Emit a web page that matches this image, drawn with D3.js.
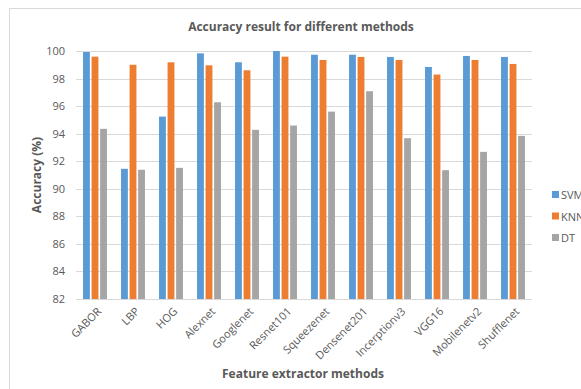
<!DOCTYPE html>
<html lang="en">
  <head>
    <meta charset="utf-8">
    <title>Accuracy result for different methods</title>
    <script src="https://d3js.org/d3.v7.min.js"></script>
    <style type="text/css">
      body {
        margin: 0;
        background: white;
      }
      .title {
        font-size: 12px;
        font-weight: bold;
        font-family: "Open Sans", sans-serif;
        fill: #595959;
      }
      .label {
        font-size: 12px;
        font-weight: bold;
        font-family: "Open Sans", sans-serif;
        fill: #595959;
      }
      .tick text, .legend text {
        font-size: 11px;
        font-family: "Open Sans", sans-serif;
        fill: #595959;
      }
    </style>
  </head>
  <body>
    <div id="vis"></div>
    <script type="text/javascript">

    const categories = ["GABOR", "LBP", "HOG", "Alexnet", "Googlenet", "Resnet101",
      "Squeezenet", "Densenet201", "Incerptionv3", "VGG16", "Mobilenetv2", "Shufflenet"];
    const seriesNames = ["SVM", "KNN", "DT"];
    const svmValues = [99.93, 91.45, 95.24, 99.83, 99.18, 100.0, 99.73, 99.73, 99.57, 98.84, 99.64, 99.57];
    const knnValues = [99.59, 99.0, 99.18, 98.96, 98.6, 99.59, 99.35, 99.57, 99.35, 98.29, 99.35, 99.06];
    const dtValues = [94.35, 91.38, 91.52, 96.28, 94.28, 94.59, 95.6, 97.08, 93.67, 91.35, 92.68, 93.84];
    const yTicks = [82, 84, 86, 88, 90, 92, 94, 96, 98, 100];
    const colors = ["#5b9bd5", "#ed7d31", "#a5a5a5"];

    const width = 581;
    const height = 389;
    const margin = {top: 51, right: 49, bottom: 90, left: 76};

    const series = [svmValues, knnValues, dtValues];

    const xScale = d3.scaleBand()
      .domain(categories)
      .range([margin.left, width - margin.right])
      .paddingInner(0.37)
      .paddingOuter(0.185);

    const inner = d3.scaleBand()
      .domain(seriesNames)
      .range([0, xScale.bandwidth()])
      .paddingInner(0.2);

    const yScale = d3.scaleLinear()
      .domain([82, 100])
      .range([height - margin.bottom, margin.top]);

    const svg = d3.select("#vis")
      .append("svg")
      .attr("width", width)
      .attr("height", height);

    // chart border
    svg.append("rect")
      .attr("x", 9.5).attr("y", 8.5)
      .attr("width", width + 10).attr("height", height + 10)
      .attr("fill", "white")
      .attr("stroke", "#d9d9d9");

    // gridlines
    svg.append("g")
      .selectAll("line")
      .data(yTicks)
      .join("line")
      .attr("x1", margin.left)
      .attr("x2", width - margin.right)
      .attr("y1", d => Math.round(yScale(d)) + 0.5)
      .attr("y2", d => Math.round(yScale(d)) + 0.5)
      .attr("stroke", "#d9d9d9");

    // bars
    svg.append("g")
      .selectAll("g")
      .data(categories)
      .join("g")
      .attr("transform", d => `translate(${xScale(d)},0)`)
      .selectAll("rect")
      .data((d, i) => seriesNames.map((s, j) => ({s: s, v: series[j][i], c: colors[j]})))
      .join("rect")
      .attr("x", d => inner(d.s))
      .attr("width", inner.bandwidth())
      .attr("y", d => yScale(d.v))
      .attr("height", d => yScale(82) - yScale(d.v))
      .attr("fill", d => d.c);

    // y axis
    const yAxis = svg.append("g")
      .attr("transform", `translate(${margin.left - 11},0)`)
      .call(d3.axisLeft(yScale).tickValues(yTicks).tickSize(0).tickPadding(0));
    yAxis.select(".domain").remove();

    // x axis
    const xAxis = svg.append("g")
      .attr("transform", `translate(0,${height - margin.bottom})`)
      .call(d3.axisBottom(xScale).tickSize(0));
    xAxis.select(".domain").remove();
    xAxis.selectAll("text")
      .attr("text-anchor", "end")
      .attr("dy", null)
      .attr("transform", "translate(5,11) rotate(-45)");

    svg.append("text")
      .attr("x", 301)
      .attr("y", 31)
      .attr("text-anchor", "middle")
      .attr("class", "title")
      .text("Accuracy result for different methods");

    svg.append("text")
      .attr("x", 303)
      .attr("y", 378)
      .attr("text-anchor", "middle")
      .attr("class", "label")
      .text("Feature extractor methods");

    svg.append("text")
      .attr("x", -175)
      .attr("y", 41)
      .attr("text-anchor", "middle")
      .attr("transform", "rotate(-90)")
      .attr("class", "label")
      .text("Accuracy (%)");

    // legend
    const legend = svg.append("g")
      .attr("class", "legend")
      .selectAll("g")
      .data(seriesNames)
      .join("g")
      .attr("transform", (d, i) => `translate(552,${195 + i * 21.5})`);
    legend.append("rect")
      .attr("x", 0).attr("y", -4)
      .attr("width", 7).attr("height", 7)
      .attr("fill", (d, i) => colors[i]);
    legend.append("text")
      .attr("x", 9)
      .attr("y", 4)
      .text(d => d);

    </script>
  </body>
</html>
